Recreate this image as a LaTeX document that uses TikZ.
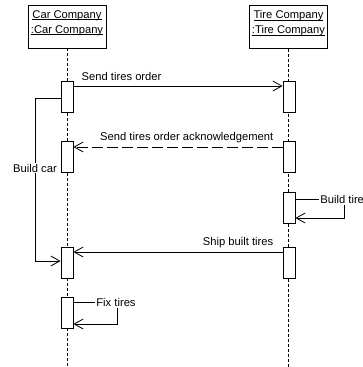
\documentclass[tikz,border=0pt]{standalone}
\usepackage{fontspec}
\setmainfont{Liberation Sans}
\usetikzlibrary{arrows.meta}

\newcommand{\objname}[1]{\underline{\smash{#1}}}

\begin{document}
\begin{tikzpicture}[x=1pt,y=-1pt,line width=0.8pt,
    font=\fontsize{11.2}{15}\selectfont,
    object/.style={rectangle,draw,align=center,minimum width=78pt,minimum height=43pt,inner sep=1pt},
    activation/.style={rectangle,draw,fill=white,minimum width=12pt,minimum height=31pt,inner sep=0pt},
    lifeline/.style={dash pattern=on 3pt off 2pt},
    msg/.style={-{Straight Barb[length=9pt,width=10pt]}},
    reply/.style={msg,dash pattern=on 11pt off 4pt},
    tag/.style={inner sep=1pt,fill=white}
]
    \useasboundingbox (0,0) rectangle (363,367);

    % the two objects and their lifelines
    \node[object] (car) at (67,26.5) {\objname{Car Company}\\\objname{:Car Company}};
    \node[object] (tire) at (288.5,27) {\objname{Tire Company}\\\objname{:Tire Company}};
    \coordinate (bottom) at (0,367);
    \draw[lifeline] (car.south) -- (car.south |- bottom);
    \draw[lifeline] (tire.south) -- (tire.south |- bottom);

    % activation bars
    \node[activation] (ca1) at (67,96.5) {};
    \node[activation] (ca2) at (67,157) {};
    \node[activation] (ca3) at (67,262.5) {};
    \node[activation] (ca4) at (67,312.5) {};
    \node[activation] (ta1) at (289,96.5) {};
    \node[activation] (ta2) at (289,157) {};
    \node[activation] (ta3) at (289,207.5) {};
    \node[activation] (ta4) at (289,262.5) {};

    % messages between the companies
    \coordinate (m1) at (0,86);
    \coordinate (m2) at (0,147);
    \coordinate (m3) at (0,252);
    \draw[msg] (ca1.east |- m1) -- (ta1.west |- m1);
    \node[anchor=base west] (order) at (78,80) {Send tires order};
    \draw[reply] (ta2.west |- m2) -- (ca2.east |- m2);
    \node[anchor=base east] (ack) at (277,140) {Send tires order acknowledgement};
    \draw[msg] (ta4.west |- m3) -- (ca3.east |- m3);
    \node[anchor=base east] (ship) at (277,245) {Ship built tires};

    % build car
    \coordinate (bc) at (35,98);
    \coordinate (bcend) at (35,261);
    \draw[msg] (ca1.west |- bc) -- (bc) -- (bcend) -- (ca3.west |- bcend);
    \node[tag] (buildcar) at (35,168) {Build car};

    % build tires
    \node[tag,anchor=west] (buildtire) at (319,199) {Build tire};
    \coordinate (bt) at (344,218);
    \draw (ta3.east |- buildtire) -- (buildtire.west);
    \draw[msg] (bt |- buildtire.south) -- (bt) -- (ta3.east |- bt);

    % fix tires
    \node[tag,anchor=west] (fixtires) at (95,302) {Fix tires};
    \coordinate (ft) at (117,324);
    \draw (ca4.east |- fixtires) -- (fixtires.west);
    \draw[msg] (ft |- fixtires.south) -- (ft) -- (ca4.east |- ft);

\end{tikzpicture}
\end{document}
